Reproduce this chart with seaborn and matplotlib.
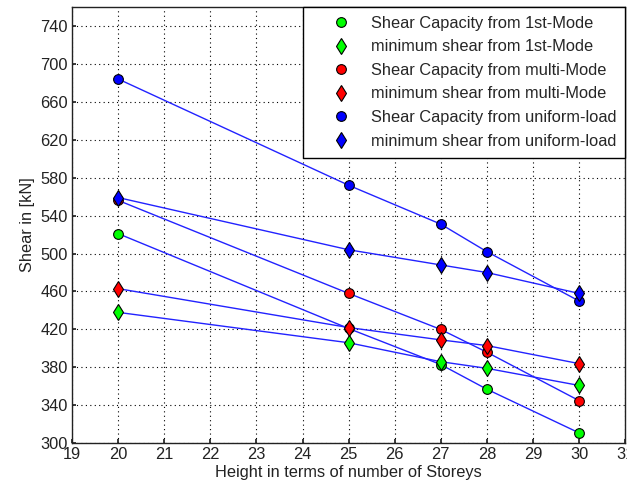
import matplotlib
matplotlib.use("Agg")
import matplotlib.pyplot as plt
from matplotlib.lines import Line2D
import seaborn as sns
import pandas as pd

storeys = [20, 25, 27, 28, 30]

cap_1st = [521, 421, 383, 357, 311]
min_1st = [438, 406, 386, 379, 361]
cap_multi = [556, 458, 420, 396, 345]
min_multi = [463, 422, 409, 403, 384]
cap_uniform = [684, 572, 531, 502, 450]
min_uniform = [559, 504, 488, 480, 458]

series_labels = [
    "Shear Capacity from 1st-Mode",
    "minimum shear from 1st-Mode",
    "Shear Capacity from multi-Mode",
    "minimum shear from multi-Mode",
    "Shear Capacity from uniform-load",
    "minimum shear from uniform-load",
]
series_values = [cap_1st, min_1st, cap_multi, min_multi, cap_uniform, min_uniform]
face_colors = ["#00ff00", "#00ff00", "#ff0000", "#ff0000", "#0000ff", "#0000ff"]
markers = ["o", "d", "o", "d", "o", "d"]

x_ticks = list(range(19, 32))
y_ticks = list(range(300, 760, 40))

sns.set_theme(style="white")
plt.rcParams["font.family"] = ["Liberation Sans", "DejaVu Sans"]

fs = 11.8

fig = plt.figure(figsize=(6.27, 4.92), dpi=100)
ax = fig.add_axes([0.115, 0.099, 0.882, 0.887])

for label, vals, fc, mk in zip(series_labels, series_values, face_colors, markers):
    df = pd.DataFrame({"storeys": storeys, "shear": vals})
    sns.lineplot(data=df, x="storeys", y="shear", ax=ax, color="#2222ff",
                 linewidth=1.0, marker=mk, markersize=7 if mk == "o" else 8,
                 markerfacecolor=fc, markeredgecolor="black",
                 markeredgewidth=0.8, legend=False)

ax.set_xlim(19, 31)
ax.set_ylim(300, 760)
ax.set_xticks(x_ticks)
ax.set_yticks(y_ticks)
ax.grid(True, linestyle=(0, (1, 3)), color="black", linewidth=0.8)
ax.tick_params(direction="in", length=3, labelsize=fs, colors="#222222",
               bottom=True, left=True, pad=3)
for s in ax.spines.values():
    s.set_color("#222222")
    s.set_linewidth(1.0)

ax.set_xlabel("Height in terms of number of Storeys", fontsize=fs, color="#222222",
              labelpad=2)
ax.set_ylabel("Shear in [kN]", fontsize=fs, color="#222222", labelpad=4)

handles = [Line2D([], [], linestyle="none", marker=mk, markersize=7 if mk == "o" else 8,
                  markerfacecolor=fc, markeredgecolor="black", markeredgewidth=0.8)
           for fc, mk in zip(face_colors, markers)]
leg = ax.legend(handles, series_labels, loc="upper right", bbox_to_anchor=(1, 1),
                borderaxespad=0, fancybox=False, framealpha=1, edgecolor="black",
                fontsize=fs, handletextpad=0.0, labelspacing=0.52,
                borderpad=0.55, handlelength=3.6)
leg.get_frame().set_linewidth(1.0)

fig.savefig("out.png", dpi=100, facecolor="white")
